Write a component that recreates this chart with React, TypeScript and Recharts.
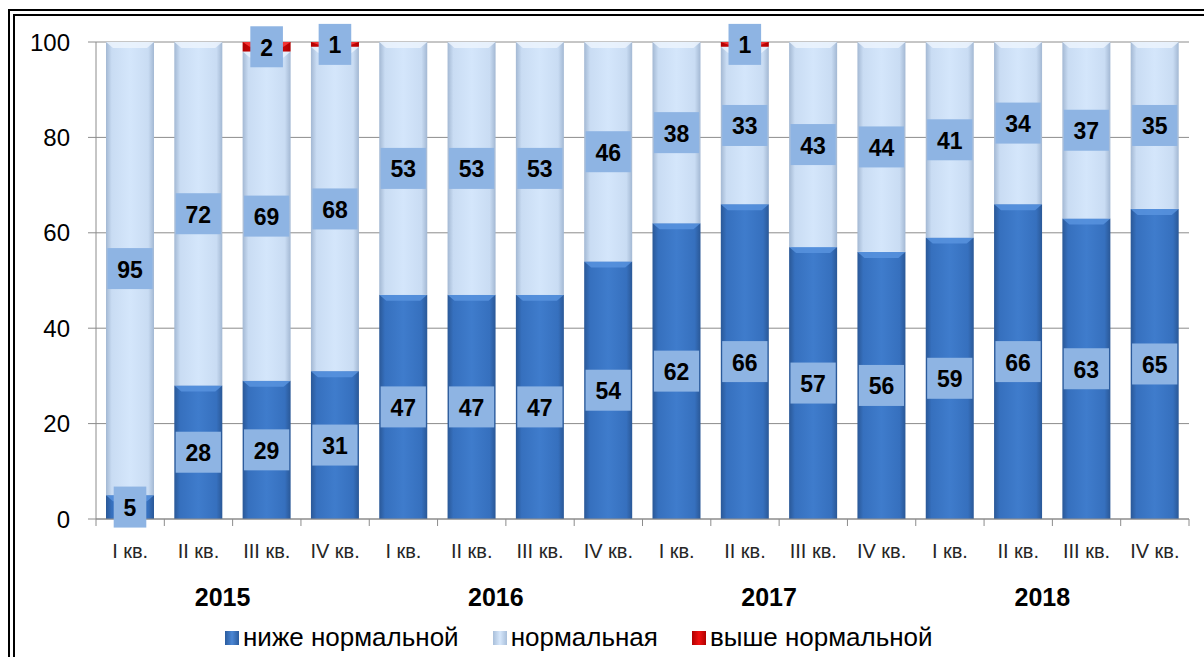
import React from 'react';
import { BarChart, Bar, XAxis, YAxis, CartesianGrid, LabelList } from 'recharts';

const quarters = ['I кв.', 'II кв.', 'III кв.', 'IV кв.', 'I кв.', 'II кв.', 'III кв.', 'IV кв.', 'I кв.', 'II кв.', 'III кв.', 'IV кв.', 'I кв.', 'II кв.', 'III кв.', 'IV кв.'];
const years = ['2015', '2016', '2017', '2018'];
const belowNormal = [5, 28, 29, 31, 47, 47, 47, 54, 62, 66, 57, 56, 59, 66, 63, 65];
const normalValues = [95, 72, 69, 68, 53, 53, 53, 46, 38, 33, 43, 44, 41, 34, 37, 35];
const aboveNormal = [0, 0, 2, 1, 0, 0, 0, 0, 0, 1, 0, 0, 0, 0, 0, 0];
const yTicks = [0, 20, 40, 60, 80, 100];
const seriesNames = ['ниже нормальной', 'нормальная', 'выше нормальной'];

const data = quarters.map((q, i) => ({
  id: String(i),
  below: belowNormal[i],
  normal: normalValues[i],
  above: aboveNormal[i],
}));

const W = 1204;
const H = 657;
const M = { top: 42, right: 15, left: 0, bottom: 0 };
const Y_AXIS_W = 96;
const X_AXIS_H = 138;
const BAND = (W - M.left - M.right - Y_AXIS_W) / quarters.length;
const FONT = "'Liberation Sans', Arial, sans-serif";

const makeShape = (gradId: string, bevel: string) => (props: any) => {
  const { x, y, width, height } = props;
  if (!height || height <= 0) return <g />;
  const b = Math.min(6, height / 2);
  return (
    <g>
      <rect x={x} y={y} width={width} height={height} fill={`url(#${gradId})`} />
      <polygon
        points={`${x},${y} ${x + width},${y} ${x + width - 7},${y + b} ${x + 7},${y + b}`}
        fill={bevel}
        opacity={0.8}
      />
    </g>
  );
};

const ValueLabel = (props: any) => {
  const { x, y, width, height, value } = props;
  if (!value) return null;
  const cx = x + width / 2;
  const cy = y + height / 2;
  const s = String(value);
  const bw = s.length * 12.6 + 20;
  const bh = 41;
  return (
    <g>
      <rect x={cx - bw / 2} y={cy - bh / 2} width={bw} height={bh} fill="#8EB4E3" />
      <text
        x={cx}
        y={cy + 1}
        textAnchor="middle"
        dominantBaseline="central"
        fontFamily={FONT}
        fontWeight="bold"
        fontSize={23}
        fill="#000"
      >
        {s}
      </text>
    </g>
  );
};

const QuarterTick = (props: any) => {
  const { x, y, index } = props;
  const half = BAND / 2;
  return (
    <g>
      <line x1={x - half} y1={y} x2={x - half} y2={y + 7} stroke="#8c8c8c" />
      {index === quarters.length - 1 && (
        <line x1={x + half} y1={y} x2={x + half} y2={y + 7} stroke="#8c8c8c" />
      )}
      <text
        x={x}
        y={y + 32}
        textAnchor="middle"
        dominantBaseline="central"
        fontFamily={FONT}
        fontSize={20}
        fill="#262626"
      >
        {quarters[index]}
      </text>
      {index % 4 === 1 && (
        <text
          x={x + half - 10}
          y={y + 78}
          textAnchor="middle"
          dominantBaseline="central"
          fontFamily={FONT}
          fontWeight="bold"
          fontSize={25}
          fill="#000"
        >
          {years[Math.floor(index / 4)]}
        </text>
      )}
    </g>
  );
};

const legendIcons = [
  'linear-gradient(to right, #2B5C9E, #4A86D4 50%, #2B5C9E)',
  'linear-gradient(to right, #A9BFDA, #D6E7FB 50%, #A9BFDA)',
  'linear-gradient(to right, #B00000, #F01010 50%, #B00000)',
];

export default function App() {
  return (
    <div style={{ position: 'fixed', left: 0, top: 0, width: W, height: H, overflow: 'hidden', background: '#fff' }}>
      <div
        style={{
          position: 'absolute',
          left: 8,
          top: 9,
          width: 1260,
          height: 720,
          border: '7px double #000',
          boxSizing: 'border-box',
        }}
      />
      <div style={{ position: 'absolute', left: 0, top: 0 }}>
        <BarChart width={W} height={H} data={data} margin={M} barSize={48}>
          <defs>
            <linearGradient id="gBelow" x1="0" y1="0" x2="1" y2="0">
              <stop offset="0%" stopColor="#2A5897" />
              <stop offset="12%" stopColor="#3670BE" />
              <stop offset="50%" stopColor="#3F7CCC" />
              <stop offset="88%" stopColor="#3670BE" />
              <stop offset="100%" stopColor="#2A5897" />
            </linearGradient>
            <linearGradient id="gNormal" x1="0" y1="0" x2="1" y2="0">
              <stop offset="0%" stopColor="#A3B8D3" />
              <stop offset="12%" stopColor="#C9DCF3" />
              <stop offset="50%" stopColor="#D4E6FB" />
              <stop offset="88%" stopColor="#C9DCF3" />
              <stop offset="100%" stopColor="#A3B8D3" />
            </linearGradient>
            <linearGradient id="gAbove" x1="0" y1="0" x2="1" y2="0">
              <stop offset="0%" stopColor="#B00000" />
              <stop offset="50%" stopColor="#F01414" />
              <stop offset="100%" stopColor="#B00000" />
            </linearGradient>
          </defs>
          <CartesianGrid vertical={false} stroke="#8c8c8c" />
          <XAxis
            dataKey="id"
            height={X_AXIS_H}
            tickLine={false}
            tickSize={0}
            tickMargin={0}
            interval={0}
            stroke="#8c8c8c"
            tick={<QuarterTick />}
          />
          <YAxis
            width={Y_AXIS_W}
            domain={[0, 100]}
            ticks={yTicks}
            interval={0}
            tickSize={8}
            tickMargin={18}
            stroke="#8c8c8c"
            tick={{ fill: '#000', fontSize: 24, fontFamily: FONT }}
          />
          <Bar dataKey="below" name={seriesNames[0]} stackId="s" isAnimationActive={false} shape={makeShape('gBelow', '#5A95E0')}>
            <LabelList dataKey="below" content={<ValueLabel />} />
          </Bar>
          <Bar dataKey="normal" name={seriesNames[1]} stackId="s" isAnimationActive={false} shape={makeShape('gNormal', '#EEF5FE')}>
            <LabelList dataKey="normal" content={<ValueLabel />} />
          </Bar>
          <Bar dataKey="above" name={seriesNames[2]} stackId="s" isAnimationActive={false} shape={makeShape('gAbove', '#FF4040')}>
            <LabelList dataKey="above" content={<ValueLabel />} />
          </Bar>
        </BarChart>
      </div>
      <div
        style={{
          position: 'absolute',
          left: 225,
          top: 622,
          display: 'flex',
          alignItems: 'center',
          fontFamily: FONT,
          fontSize: 26,
          color: '#000',
          whiteSpace: 'nowrap',
        }}
      >
        {seriesNames.map((n, i) => (
          <div key={n} style={{ display: 'flex', alignItems: 'center', marginRight: 34 }}>
            <span style={{ display: 'inline-block', width: 14, height: 14, background: legendIcons[i], marginRight: 4 }} />
            <span>{n}</span>
          </div>
        ))}
      </div>
    </div>
  );
}
